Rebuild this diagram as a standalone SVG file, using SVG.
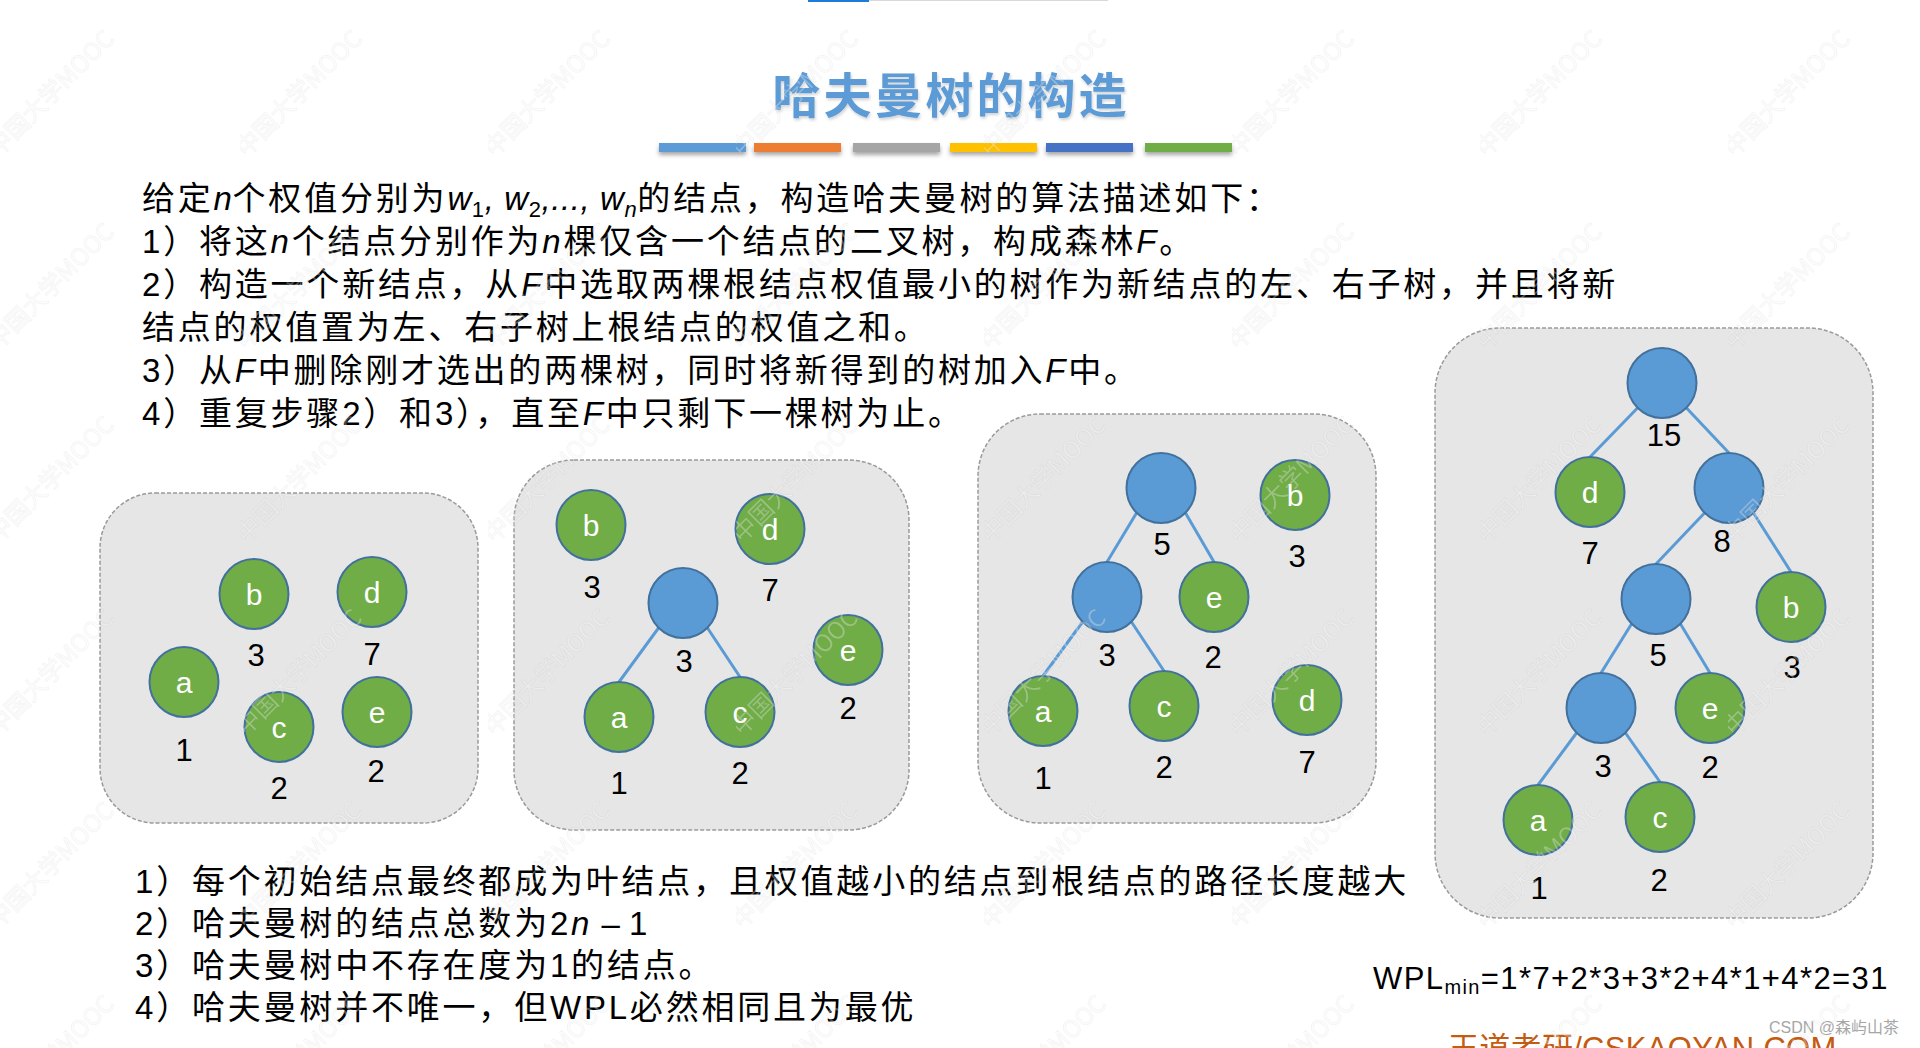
<svg xmlns="http://www.w3.org/2000/svg" width="1920" height="1048" viewBox="0 0 1920 1048">
<defs>
<style>
.body{font-family:"Liberation Sans","Noto Sans CJK SC",sans-serif;font-size:33px;letter-spacing:2.8px;fill:#000}
.i{font-style:italic}
.w{letter-spacing:0.6px}
.sub{font-size:22px}
.box{fill:#e7e6e6;stroke:#9a9a9a;stroke-width:1.5;stroke-dasharray:4 2}
.g{fill:#70ad47;stroke:#41719c;stroke-width:2}
.b{fill:#5b9bd5;stroke:#41719c;stroke-width:2}
.nl{font-family:"Liberation Sans",sans-serif;font-size:30px;fill:#fff;text-anchor:middle}
.lb{font-family:"Liberation Sans",sans-serif;font-size:31px;fill:#000;text-anchor:middle}
.edge{stroke:#5b9bd5;stroke-width:3;fill:none}
.wm{font-family:"Noto Sans CJK SC",sans-serif;font-size:24px;fill:#fff;fill-opacity:0.3;stroke:#000;stroke-opacity:0.04;stroke-width:1}
</style>
<filter id="sh" x="-10%" y="-50%" width="120%" height="250%">
<feDropShadow dx="0" dy="3" stdDeviation="2" flood-color="#000" flood-opacity="0.35"/>
</filter>
<filter id="tsh" x="-5%" y="-20%" width="110%" height="140%">
<feDropShadow dx="1" dy="2" stdDeviation="1.5" flood-color="#000" flood-opacity="0.18"/>
</filter>
<pattern id="wmp" patternUnits="userSpaceOnUse" x="-8" y="-20" width="248" height="193">
<text class="wm" transform="translate(6,178) rotate(-45)">中国大学MOOC</text>
</pattern>
</defs>
<rect x="0" y="0" width="1920" height="1048" fill="#fff"/>
<rect x="808" y="0" width="61" height="2" fill="#1e7bd8"/>
<rect x="869" y="0" width="239" height="1" fill="#d9d9d9"/>

<g id="title" filter="url(#tsh)">
<text x="951" y="113" text-anchor="middle" font-family="Noto Sans CJK SC, sans-serif" font-size="48" font-weight="bold" letter-spacing="3" fill="#5b9bd5">哈夫曼树的构造</text>
</g>
<g id="bars" filter="url(#sh)">
<rect x="659" y="143" width="87" height="9" fill="#5b9bd5"/>
<rect x="754" y="143" width="87" height="9" fill="#ed7d31"/>
<rect x="853" y="143" width="87" height="9" fill="#a5a5a5"/>
<rect x="950" y="143" width="87" height="9" fill="#ffc000"/>
<rect x="1046" y="143" width="87" height="9" fill="#4472c4"/>
<rect x="1145" y="143" width="87" height="9" fill="#70ad47"/>
</g>

<g id="algorithm">
<text class="body" x="142" y="210">给定<tspan class="i w">n</tspan>个权值分别为<tspan class="i w">w</tspan><tspan class="sub w" dy="7">1</tspan><tspan class="i w" dy="-7">, w</tspan><tspan class="sub w" dy="7">2</tspan><tspan class="i w" dy="-7">,..., w</tspan><tspan class="sub i w" dy="7">n</tspan><tspan dy="-7">的结点，构造哈夫曼树的算法描述如下：</tspan></text>
<text class="body" x="142" y="253">1）将这<tspan class="i">n</tspan>个结点分别作为<tspan class="i">n</tspan>棵仅含一个结点的二叉树，构成森林<tspan class="i">F</tspan>。</text>
<text class="body" x="142" y="296">2）构造一个新结点，从<tspan class="i">F</tspan>中选取两棵根结点权值最小的树作为新结点的左、右子树，并且将新</text>
<text class="body" x="142" y="339">结点的权值置为左、右子树上根结点的权值之和。</text>
<text class="body" x="142" y="382">3）从<tspan class="i">F</tspan>中删除刚才选出的两棵树，同时将新得到的树加入<tspan class="i">F</tspan>中。</text>
<text class="body" x="142" y="425">4）重复步骤2）和3），直至<tspan class="i">F</tspan>中只剩下一棵树为止。</text>
</g>

<g id="box1"><rect class="box" x="100" y="493" width="378" height="330" rx="55"/></g>
<g id="box2"><rect class="box" x="514" y="460" width="395" height="370" rx="60"/></g>
<g id="box3"><rect class="box" x="978" y="414" width="398" height="409" rx="62"/></g>
<g id="box4"><rect class="box" x="1435" y="328" width="438" height="590" rx="65"/></g>

<g id="connectors">
<line class="edge" x1="658.5" y1="628" x2="619" y2="682"/>
<line class="edge" x1="707.5" y1="628" x2="740" y2="677"/>
<line class="edge" x1="1136.5" y1="513" x2="1107" y2="562"/>
<line class="edge" x1="1185.5" y1="513" x2="1214" y2="562"/>
<line class="edge" x1="1082.5" y1="622" x2="1043" y2="676"/>
<line class="edge" x1="1131.5" y1="622" x2="1164" y2="671"/>
<line class="edge" x1="1637.5" y1="408" x2="1590" y2="457"/>
<line class="edge" x1="1686.5" y1="408" x2="1729" y2="453"/>
<line class="edge" x1="1704.5" y1="513" x2="1656" y2="564"/>
<line class="edge" x1="1753.5" y1="513" x2="1791" y2="572"/>
<line class="edge" x1="1631.5" y1="624" x2="1601" y2="673"/>
<line class="edge" x1="1680.5" y1="624" x2="1710" y2="673"/>
<line class="edge" x1="1576.5" y1="733" x2="1538" y2="785"/>
<line class="edge" x1="1625.5" y1="733" x2="1660" y2="782"/>
</g>

<!-- Box 1 -->
<g id="f1-b"><ellipse class="g" cx="254" cy="594" rx="34.5" ry="35"/><text class="nl" x="254" y="605">b</text><text class="lb" x="256" y="666">3</text></g>
<g id="f1-d"><ellipse class="g" cx="372" cy="592" rx="34.5" ry="35"/><text class="nl" x="372" y="603">d</text><text class="lb" x="372" y="665">7</text></g>
<g id="f1-a"><ellipse class="g" cx="184" cy="682" rx="34.5" ry="35"/><text class="nl" x="184" y="693">a</text><text class="lb" x="184" y="761">1</text></g>
<g id="f1-c"><ellipse class="g" cx="279" cy="727" rx="34.5" ry="35"/><text class="nl" x="279" y="738">c</text><text class="lb" x="279" y="799">2</text></g>
<g id="f1-e"><ellipse class="g" cx="377" cy="712" rx="34.5" ry="35"/><text class="nl" x="377" y="723">e</text><text class="lb" x="376" y="782">2</text></g>

<!-- Box 2 -->
<g id="f2-b"><ellipse class="g" cx="591" cy="525" rx="34.5" ry="35"/><text class="nl" x="591" y="536">b</text><text class="lb" x="592" y="598">3</text></g>
<g id="f2-d"><ellipse class="g" cx="770" cy="529" rx="34.5" ry="35"/><text class="nl" x="770" y="540">d</text><text class="lb" x="770" y="601">7</text></g>
<g id="f2-n3"><ellipse class="b" cx="683" cy="603" rx="34.5" ry="35"/><text class="lb" x="684" y="672">3</text></g>
<g id="f2-a"><ellipse class="g" cx="619" cy="717" rx="34.5" ry="35"/><text class="nl" x="619" y="728">a</text><text class="lb" x="619" y="794">1</text></g>
<g id="f2-c"><ellipse class="g" cx="740" cy="712" rx="34.5" ry="35"/><text class="nl" x="740" y="723">c</text><text class="lb" x="740" y="784">2</text></g>
<g id="f2-e"><ellipse class="g" cx="848" cy="650" rx="34.5" ry="35"/><text class="nl" x="848" y="661">e</text><text class="lb" x="848" y="719">2</text></g>

<!-- Box 3 -->
<g id="f3-n5"><ellipse class="b" cx="1161" cy="488" rx="34.5" ry="35"/><text class="lb" x="1162" y="555">5</text></g>
<g id="f3-b"><ellipse class="g" cx="1295" cy="495" rx="34.5" ry="35"/><text class="nl" x="1295" y="506">b</text><text class="lb" x="1297" y="567">3</text></g>
<g id="f3-n3"><ellipse class="b" cx="1107" cy="597" rx="34.5" ry="35"/><text class="lb" x="1107" y="666">3</text></g>
<g id="f3-e"><ellipse class="g" cx="1214" cy="597" rx="34.5" ry="35"/><text class="nl" x="1214" y="608">e</text><text class="lb" x="1213" y="668">2</text></g>
<g id="f3-a"><ellipse class="g" cx="1043" cy="711" rx="34.5" ry="35"/><text class="nl" x="1043" y="722">a</text><text class="lb" x="1043" y="789">1</text></g>
<g id="f3-c"><ellipse class="g" cx="1164" cy="706" rx="34.5" ry="35"/><text class="nl" x="1164" y="717">c</text><text class="lb" x="1164" y="778">2</text></g>
<g id="f3-d"><ellipse class="g" cx="1307" cy="700" rx="34.5" ry="35"/><text class="nl" x="1307" y="711">d</text><text class="lb" x="1307" y="773">7</text></g>

<!-- Box 4 -->
<g id="f4-n15"><ellipse class="b" cx="1662" cy="383" rx="34.5" ry="35"/><text class="lb" x="1664" y="446">15</text></g>
<g id="f4-d"><ellipse class="g" cx="1590" cy="492" rx="34.5" ry="35"/><text class="nl" x="1590" y="503">d</text><text class="lb" x="1590" y="564">7</text></g>
<g id="f4-n8"><ellipse class="b" cx="1729" cy="488" rx="34.5" ry="35"/><text class="lb" x="1722" y="552">8</text></g>
<g id="f4-n5"><ellipse class="b" cx="1656" cy="599" rx="34.5" ry="35"/><text class="lb" x="1658" y="666">5</text></g>
<g id="f4-b"><ellipse class="g" cx="1791" cy="607" rx="34.5" ry="35"/><text class="nl" x="1791" y="618">b</text><text class="lb" x="1792" y="678">3</text></g>
<g id="f4-n3"><ellipse class="b" cx="1601" cy="708" rx="34.5" ry="35"/><text class="lb" x="1603" y="777">3</text></g>
<g id="f4-e"><ellipse class="g" cx="1710" cy="708" rx="34.5" ry="35"/><text class="nl" x="1710" y="719">e</text><text class="lb" x="1710" y="778">2</text></g>
<g id="f4-a"><ellipse class="g" cx="1538" cy="820" rx="34.5" ry="35"/><text class="nl" x="1538" y="831">a</text><text class="lb" x="1539" y="899">1</text></g>
<g id="f4-c"><ellipse class="g" cx="1660" cy="817" rx="34.5" ry="35"/><text class="nl" x="1660" y="828">c</text><text class="lb" x="1659" y="891">2</text></g>

<g id="properties">
<text class="body" x="135" y="893">1）每个初始结点最终都成为叶结点，且权值越小的结点到根结点的路径长度越大</text>
<text class="body" x="135" y="935">2）哈夫曼树的结点总数为2<tspan class="i">n</tspan><tspan letter-spacing="0"> – 1</tspan></text>
<text class="body" x="135" y="977">3）哈夫曼树中不存在度为1的结点。</text>
<text class="body" x="135" y="1019">4）哈夫曼树并不唯一，但WPL必然相同且为最优</text>
</g>

<g id="wpl">
<text x="1373" y="989" font-family="Liberation Sans, sans-serif" font-size="31" letter-spacing="1.4" fill="#000">WPL<tspan font-size="20" dy="5">min</tspan><tspan dy="-5">=1*7+2*3+3*2+4*1+4*2=31</tspan></text>
</g>

<g id="footer">
<text x="1448" y="1059" font-family="Liberation Sans, Noto Sans CJK SC, sans-serif" font-size="31" letter-spacing="0.3" fill="#c55a11">王道考研/CSKAOYAN.COM</text>
<text x="1769" y="1033" font-family="Liberation Sans, Noto Sans CJK SC, sans-serif" font-size="16" fill="#a6a6a6">CSDN @森屿山茶</text>
</g>

<rect x="0" y="0" width="1920" height="1048" fill="url(#wmp)" pointer-events="none"/>
</svg>
